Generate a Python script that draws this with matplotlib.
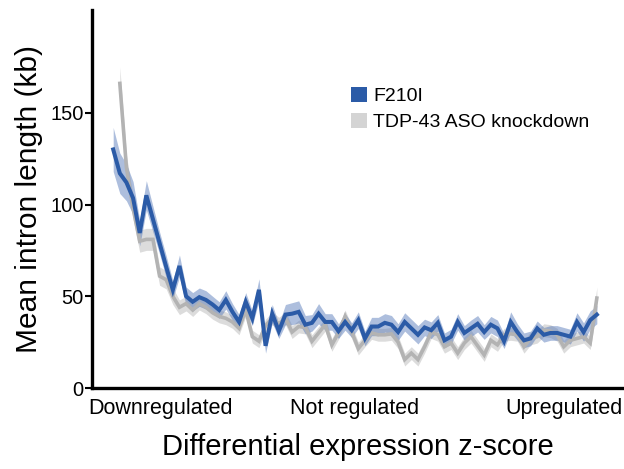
import numpy as np
import matplotlib
matplotlib.use("Agg")
import matplotlib.pyplot as plt
from matplotlib.patches import Patch

plt.rcParams["font.family"] = ["Liberation Sans", "DejaVu Sans"]

# mean intron length (kb) per z-score bin, downregulated -> upregulated
f210i_mean = [
    130, 117, 112, 103.5, 84.5, 105, 92, 79, 66, 53.5,
    66.5, 50, 47, 49.5, 48, 45.5, 42.5, 48, 41.5, 36,
    47, 38, 53.5, 23, 40.5, 31, 40, 40.5, 41.5, 34.5,
    35.5, 40.5, 36, 36, 31, 36, 31.5, 37, 27, 33.5,
    33.5, 35.5, 34.5, 30.5, 36, 32.5, 29, 33, 31.5, 35.5,
    26, 28, 36, 30, 32.5, 35, 30.5, 34.5, 32.5, 25.5,
    36, 30.5, 26, 27, 32.5, 29, 30, 30, 29, 28,
    36, 30.5, 37, 40,
]
f210i_err = [
    12, 11, 10, 9, 7, 8, 7, 6, 6, 5,
    6, 5, 5, 5, 5, 4.5, 4.5, 5, 4.5, 4,
    5, 4, 6, 4, 5, 4, 5.5, 6, 6, 5,
    4.5, 5.5, 4.5, 4.5, 4, 4.5, 4, 4.5, 4, 5,
    5, 5, 5, 4.5, 5, 5, 5, 4.5, 4.5, 4.5,
    4, 4, 4.5, 4, 4.5, 4.5, 4, 4.5, 4.5, 4,
    5.5, 4.5, 4, 4, 4, 4, 4, 4, 4, 4,
    5, 5, 5, 5,
]
kd_mean = [
    np.nan, 166, 120, 98, 80, 81, 81, 61, 59, 50,
    44, 46, 42.5, 46, 44, 41, 39, 38, 36, 32.5,
    42.5, 28, 25.5, 34, 38, 35, 38, 30.5, 33.5, 33,
    25.5, 30, 34.5, 23.5, 30, 39, 30.5, 21.5, 26, 30,
    29, 29, 29.5, 25, 15.5, 19, 15.5, 22.5, 30.5, 29,
    22.5, 24.5, 19, 24.5, 28, 23, 18, 26, 23.5, 29,
    29.5, 29, 22.5, 27, 28, 31.5, 31, 29, 22.5, 26,
    27, 28, 24.5, 49,
]
kd_err = [
    np.nan, 9, 7, 6, 6, 6, 6, 5, 5, 4.5,
    4, 4, 3.5, 3.5, 3.5, 3.5, 3.5, 3.5, 3.5, 3.5,
    3.5, 3.5, 3.5, 3.5, 3.5, 3.5, 3.5, 3.5, 3.5, 3.5,
    3.5, 3.5, 3.5, 3.5, 3.5, 3.5, 3.5, 3.5, 3.5, 3.5,
    3.5, 3.5, 3.5, 3.5, 3.5, 3.5, 3.5, 3.5, 3.5, 3.5,
    3.5, 3.5, 3.5, 3.5, 3.5, 3.5, 3.5, 3.5, 3.5, 3.5,
    3.5, 3.5, 3.5, 3.5, 3.5, 3.5, 3.5, 3.5, 3.5, 3.5,
    3.5, 3.5, 3.5, 6,
]
region_labels = ["Downregulated", "Not regulated", "Upregulated"]
region_pos = [7.2, 36.5, 68]

BLUE = "#2b5ba7"
GREY = "#b3b3b3"

x = np.arange(len(f210i_mean))
f_m, f_e = np.array(f210i_mean), np.array(f210i_err)
k_m, k_e = np.array(kd_mean), np.array(kd_err)

fig = plt.figure(figsize=(6.24, 4.69), dpi=100)
ax = fig.add_axes([92 / 624, 1 - 388 / 469, 1 - 92 / 624, (388 - 10) / 469])

ax.fill_between(x, k_m - k_e, k_m + k_e, color="#d6d6d6", alpha=0.85, lw=0)
ax.plot(x, k_m, color=GREY, lw=2.6, solid_joinstyle="miter")
ax.fill_between(x, f_m - f_e, f_m + f_e, color="#4a70b5", alpha=0.45, lw=0)
ax.plot(x, f_m, color=BLUE, lw=2.9, solid_joinstyle="miter")

ax.set_xlim(-3.2, 77.1)
ax.set_ylim(0, 206)
ax.set_yticks([0, 50, 100, 150])
ax.set_xticks(region_pos)
ax.set_xticklabels(region_labels, fontsize=15.5)
ax.tick_params(axis="x", length=0, pad=7)
ax.tick_params(axis="y", labelsize=14.5, length=5, width=1.5, pad=1)

for side in ["top", "right"]:
    ax.spines[side].set_visible(False)
for side in ["left", "bottom"]:
    ax.spines[side].set_linewidth(2.4)

ax.set_ylabel("Mean intron length (kb)", fontsize=21.5, labelpad=5)
ax.set_xlabel("Differential expression z-score", fontsize=21, labelpad=10)

handles = [Patch(facecolor=BLUE, edgecolor="none"),
           Patch(facecolor="#d4d4d4", edgecolor="none")]
fig.legend(handles, ["F210I", "TDP-43 ASO knockdown"], loc="upper left",
           bbox_to_anchor=(351 / 624, 1 - 87 / 469), frameon=False,
           fontsize=14, handlelength=0.8, handleheight=0.8,
           handletextpad=0.35, labelspacing=0.4, borderpad=0, borderaxespad=0)

fig.savefig("out.png", dpi=100)
